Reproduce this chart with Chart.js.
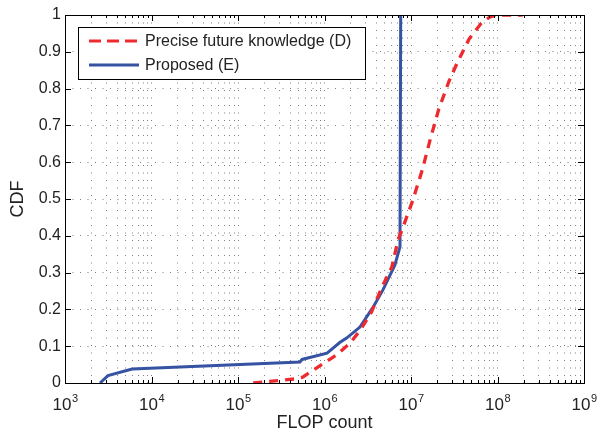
<!DOCTYPE html>
<html>
<head>
<meta charset="utf-8">
<script src="https://cdn.jsdelivr.net/npm/chart.js@4.4.0/dist/chart.umd.min.js"></script>
<style>
  body { margin: 0; background: #fff; }
  #wrap { width: 599px; height: 434px; }
</style>
</head>
<body>
<div id="wrap"><canvas id="myChart" width="599" height="434"></canvas></div>
<script>
// values
const preciseX = [1.5e5, 4.5e5, 5.6e5, 7.4e5, 1.37e6, 1.97e6, 2.6e6, 3.5e6, 4.6e6, 6e6, 7.1e6, 8.1e6,
                  1.05e7, 1.35e7, 1.66e7, 2.1e7, 2.75e7, 3.5e7, 4.7e7, 6.5e7, 8.2e7, 9.8e7, 1.95e8];
const preciseY = [0, 0.011, 0.016, 0.035, 0.076, 0.108, 0.144, 0.193, 0.26, 0.315, 0.39, 0.424,
                  0.497, 0.579, 0.66, 0.745, 0.82, 0.875, 0.935, 0.978, 0.995, 1.0, 1.0];
const proposedX = [2540, 3140, 5960, 5.2e5, 5.5e5, 1.07e6, 1.5e6, 1.8e6, 2.57e6, 3.6e6, 4.74e6, 6.5e6, 7.46e6, 7.6e6];
const proposedY = [0, 0.02, 0.038, 0.057, 0.064, 0.081, 0.11, 0.122, 0.152, 0.204, 0.253, 0.32, 0.37, 1.0];

const seriesLabels = ['Precise future knowledge (D)', 'Proposed (E)'];
const xTickExps = [3, 4, 5, 6, 7, 8, 9];
const yTicks = [0, 0.1, 0.2, 0.3, 0.4, 0.5, 0.6, 0.7, 0.8, 0.9, 1];

const FONT = '"Liberation Sans", Arial, sans-serif';
const RED = '#ee2a2e';
const BLUE = '#3652a3';
const GRID = 'rgba(0,0,0,0.5)';

function pts(xs, ys) {
    return xs.map((x, i) => ({ x: x, y: ys[i] }));
}

// x labels with superscripts, inward ticks, box and legend
const decorPlugin = {
    id: 'decor',
    afterDraw(chart) {
        const ctx = chart.ctx;
        const a = chart.chartArea;
        const xs = chart.scales.x;
        const ys = chart.scales.y;
        ctx.save();
        ctx.strokeStyle = '#000';
        ctx.lineWidth = 1;
        ctx.setLineDash([]);

        // x ticks (major + minor)
        xs.ticks.forEach(t => {
            const px = Math.round(xs.getPixelForValue(t.value)) + 0.5;
            const major = Math.abs(Math.log10(t.value) % 1) < 1e-9;
            const len = major ? 6 : 3;
            ctx.beginPath();
            ctx.moveTo(px, a.bottom); ctx.lineTo(px, a.bottom - len);
            ctx.moveTo(px, a.top); ctx.lineTo(px, a.top + len);
            ctx.stroke();
        });
        // y ticks
        yTicks.forEach(v => {
            const py = Math.round(ys.getPixelForValue(v)) + 0.5;
            ctx.beginPath();
            ctx.moveTo(a.left, py); ctx.lineTo(a.left + 6, py);
            ctx.moveTo(a.right, py); ctx.lineTo(a.right - 6, py);
            ctx.stroke();
        });
        // box
        ctx.strokeRect(Math.round(a.left) + 0.5, Math.round(a.top) + 0.5,
                       Math.round(a.right - a.left), Math.round(a.bottom - a.top));

        // x tick labels 10^n
        ctx.fillStyle = '#222';
        ctx.textBaseline = 'alphabetic';
        xTickExps.forEach(e => {
            const px = xs.getPixelForValue(Math.pow(10, e));
            ctx.font = '17px ' + FONT;
            const wb = ctx.measureText('10').width;
            ctx.font = '11px ' + FONT;
            const we = ctx.measureText(String(e)).width;
            const x0 = px - (wb + we) / 2;
            ctx.font = '17px ' + FONT;
            ctx.textAlign = 'left';
            ctx.fillText('10', x0, a.bottom + 27);
            ctx.font = '11px ' + FONT;
            ctx.fillText(String(e), x0 + wb + 0.5, a.bottom + 19);
        });

        // legend
        const lx = 78, ly = 27, lw = 287, lh = 52;
        ctx.fillStyle = '#fff';
        ctx.fillRect(lx, ly, lw, lh);
        ctx.strokeStyle = '#000';
        ctx.strokeRect(lx + 0.5, ly + 0.5, lw, lh);
        const items = [
            { color: RED, dash: [12, 6], label: seriesLabels[0], y: ly + 14 },
            { color: BLUE, dash: [], label: seriesLabels[1], y: ly + 38 }
        ];
        items.forEach(it => {
            ctx.strokeStyle = it.color;
            ctx.lineWidth = 3;
            ctx.setLineDash(it.dash);
            ctx.beginPath();
            ctx.moveTo(lx + 11, it.y); ctx.lineTo(lx + 61, it.y);
            ctx.stroke();
            ctx.setLineDash([]);
            ctx.fillStyle = '#222';
            ctx.font = '16px ' + FONT;
            ctx.textAlign = 'left';
            ctx.textBaseline = 'middle';
            ctx.fillText(it.label, lx + 67, it.y + 1);
        });
        ctx.restore();
    }
};

const ctx = document.getElementById('myChart').getContext('2d');
const myChart = new Chart(ctx, {
    type: 'line',
    data: {
        datasets: [{
            label: seriesLabels[0],
            data: pts(preciseX, preciseY),
            borderColor: RED,
            borderWidth: 3.3,
            borderDash: [9, 7],
            pointRadius: 0,
            fill: false,
            tension: 0
        }, {
            label: seriesLabels[1],
            data: pts(proposedX, proposedY),
            borderColor: BLUE,
            borderWidth: 3,
            pointRadius: 0,
            fill: false,
            tension: 0
        }]
    },
    options: {
        responsive: false,
        animation: false,
        layout: { padding: { top: 15, right: 15, left: 0, bottom: 0 } },
        plugins: {
            legend: { display: false },
            tooltip: { enabled: false }
        },
        scales: {
            x: {
                type: 'logarithmic',
                min: 1e3,
                max: 1e9,
                afterBuildTicks: s => {
                    const t = [];
                    for (let e = xTickExps[0]; e < xTickExps[xTickExps.length - 1]; e++) {
                        for (let m = 1; m < 10; m++) t.push({ value: m * Math.pow(10, e) });
                    }
                    t.push({ value: Math.pow(10, xTickExps[xTickExps.length - 1]) });
                    s.ticks = t;
                },
                afterFit: s => { s.height = 51; },
                ticks: { display: false },
                grid: { color: GRID, lineWidth: 1, drawTicks: false },
                border: { display: false, dash: [1, 6.5] },
                title: {
                    display: true,
                    text: 'FLOP count',
                    color: '#222',
                    font: { family: FONT, size: 18 },
                    padding: { top: 0, bottom: 0 }
                }
            },
            y: {
                min: 0,
                max: 1,
                afterBuildTicks: s => { s.ticks = yTicks.map(v => ({ value: v })); },
                afterFit: s => { s.width = 65; },
                ticks: {
                    color: '#222',
                    padding: 4,
                    font: { family: FONT, size: 16 },
                    callback: v => String(+v.toFixed(1))
                },
                grid: { color: GRID, lineWidth: 1, drawTicks: false },
                border: { display: false, dash: [1, 6.5] },
                title: {
                    display: true,
                    text: 'CDF',
                    color: '#222',
                    font: { family: FONT, size: 18 },
                    padding: { top: 7, bottom: 0 }
                }
            }
        }
    },
    plugins: [decorPlugin]
});
</script>
</body>
</html>
